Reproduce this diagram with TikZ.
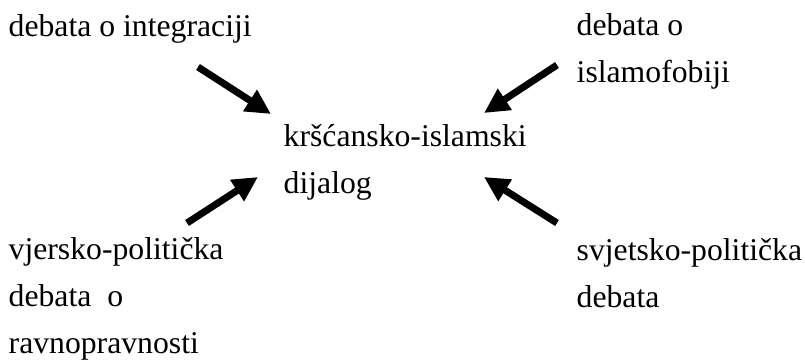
\documentclass[tikz,border=0pt]{standalone}
\usepackage{fontspec}
\setmainfont{Liberation Serif}
\usepackage{tikz}
\usetikzlibrary{arrows.meta,positioning}
\tikzset
{
    textnode/.style = {align=left, inner sep=0pt, anchor=base west, font=\fontsize{9.02pt}{13.25pt}\selectfont},
    bigarrow/.style = {-{Triangle[length=0.25cm, width=0.24cm]}, line width=0.07cm}
}
\begin{document}
\begin{tikzpicture}
    \useasboundingbox (0,0) rectangle (8.05,-3.60);
    % base west of a node is the baseline of its last line
    \node [textnode] (integ) at (0.08,-0.36) {debata o integraciji};
    \node [textnode] (islam) at (5.76,-0.82) {debata o\\islamofobiji};
    \node [textnode] (dialog) at (2.83,-1.93) {kršćansko-islamski\\dijalog};
    \node [textnode] (vjersko) at (0.08,-3.53) {vjersko-politička\\debata\ \ o\\ravnopravnosti};
    \node [textnode] (svjetsko) at (5.76,-3.07) {svjetsko-politička\\debata};
    \coordinate (t1) at (1.98,-0.67);
    \coordinate (h1) at (2.71,-1.14);
    \coordinate (t2) at (5.57,-0.65);
    \coordinate (h2) at (4.84,-1.13);
    \coordinate (t3) at (1.87,-2.23);
    \coordinate (h3) at (2.58,-1.77);
    \coordinate (t4) at (5.57,-2.23);
    \coordinate (h4) at (4.84,-1.77);
    \draw [bigarrow] (t1) -- (h1);
    \draw [bigarrow] (t2) -- (h2);
    \draw [bigarrow] (t3) -- (h3);
    \draw [bigarrow] (t4) -- (h4);
\end{tikzpicture}
\end{document}
